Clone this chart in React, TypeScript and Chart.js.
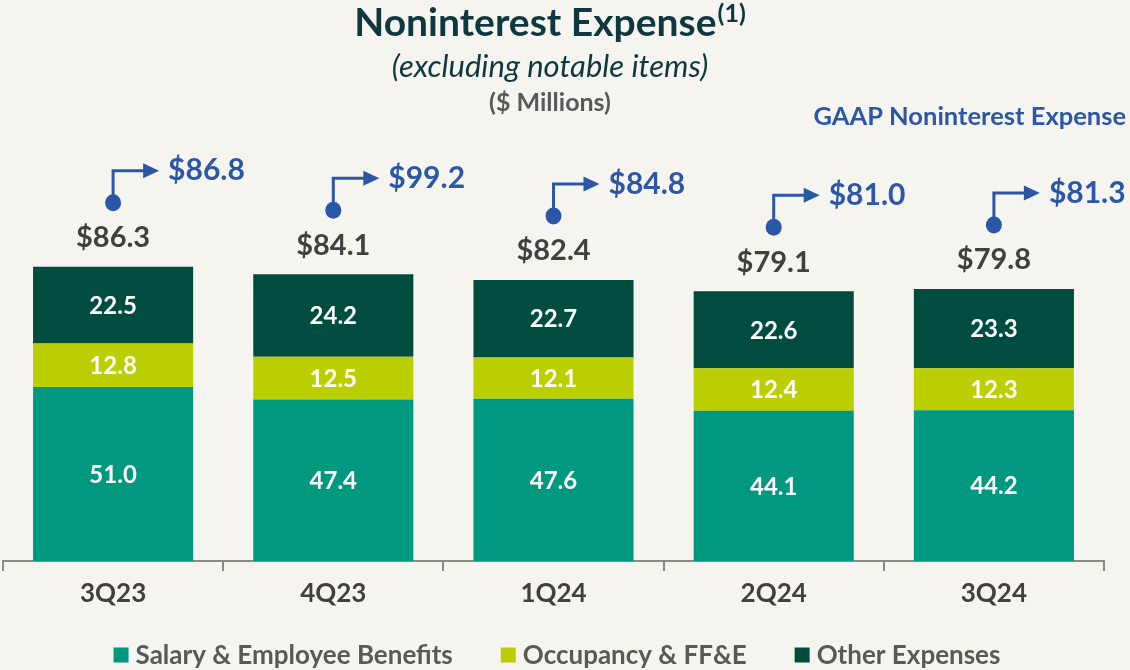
import React, { useEffect, useRef } from "react";
import { Chart, registerables } from "chart.js";

Chart.register(...registerables);

const categories = ["3Q23", "4Q23", "1Q24", "2Q24", "3Q24"];
const salary = [51.0, 47.4, 47.6, 44.1, 44.2];
const occupancy = [12.8, 12.5, 12.1, 12.4, 12.3];
const other = [22.5, 24.2, 22.7, 22.6, 23.3];
const totals = [86.3, 84.1, 82.4, 79.1, 79.8];
const gaap = [86.8, 99.2, 84.8, 81.0, 81.3];
const seriesNames = ["Salary & Employee Benefits", "Occupancy & FF&E", "Other Expenses"];

const TEAL = "#00987F";
const LIME = "#BBCF00";
const DARK = "#004D40";
const BLUE = "#2C57A7";
const GREY = "#404040";
const BG = "#F5F4EE";
const FONT = "Lato, 'Open Sans', sans-serif";

const decorPlugin = {
  id: "decor",
  beforeDraw(chart: any) {
    const { ctx, width, height } = chart;
    ctx.save();
    ctx.fillStyle = BG;
    ctx.fillRect(0, 0, width, height);
    ctx.restore();
  },
  afterDatasetsDraw(chart: any) {
    const { ctx } = chart;
    const cx = 550;
    ctx.save();
    // Title
    ctx.textBaseline = "alphabetic";
    ctx.fillStyle = "#0F3740";
    ctx.font = `bold 39px ${FONT}`;
    const t = "Noninterest Expense";
    const tw = ctx.measureText(t).width;
    ctx.font = `bold 25px ${FONT}`;
    const sw = ctx.measureText("(1)").width;
    const startX = cx - (tw + sw + 1) / 2;
    ctx.textAlign = "left";
    ctx.font = `bold 39px ${FONT}`;
    ctx.fillText(t, startX, 36);
    ctx.font = `bold 25px ${FONT}`;
    ctx.fillText("(1)", startX + tw + 1, 22);
    // Subtitle
    ctx.textAlign = "center";
    ctx.font = `italic 31px ${FONT}`;
    ctx.fillText("(excluding notable items)", cx, 77);
    ctx.fillStyle = "#595959";
    ctx.font = `bold 25px ${FONT}`;
    ctx.fillText("($ Millions)", cx, 111);
    // GAAP header
    ctx.fillStyle = BLUE;
    ctx.textAlign = "right";
    ctx.font = `bold 25.5px ${FONT}`;
    ctx.fillText("GAAP Noninterest Expense", 1126, 125);

    // Segment labels
    ctx.textAlign = "center";
    ctx.textBaseline = "middle";
    ctx.fillStyle = "#FFFFFF";
    ctx.font = `bold 24px ${FONT}`;
    chart.data.datasets.forEach((ds: any, di: number) => {
      const meta = chart.getDatasetMeta(di);
      meta.data.forEach((bar: any, i: number) => {
        const yMid = (bar.y + bar.base) / 2;
        ctx.fillText(ds.data[i].toFixed(1), bar.x, yMid + 1);
      });
    });

    // Totals and GAAP arrows
    const topMeta = chart.getDatasetMeta(2);
    const yScale = chart.scales.y;
    topMeta.data.forEach((bar: any, i: number) => {
      const x = bar.x;
      const top = yScale.getPixelForValue(totals[i]);
      ctx.fillStyle = GREY;
      ctx.font = `bold 29px ${FONT}`;
      ctx.textAlign = "center";
      ctx.fillText("$" + totals[i].toFixed(1), x, top - 29);

      const dotY = top - 64;
      const lineY = dotY - 32;
      ctx.strokeStyle = BLUE;
      ctx.fillStyle = BLUE;
      ctx.lineWidth = 3;
      ctx.beginPath();
      ctx.moveTo(x, dotY);
      ctx.lineTo(x, lineY);
      ctx.lineTo(x + 31, lineY);
      ctx.stroke();
      ctx.beginPath();
      ctx.moveTo(x + 30, lineY - 7.5);
      ctx.lineTo(x + 46, lineY);
      ctx.lineTo(x + 30, lineY + 7.5);
      ctx.closePath();
      ctx.fill();
      ctx.beginPath();
      ctx.ellipse(x, dotY, 8, 8.5, 0, 0, Math.PI * 2);
      ctx.fill();

      ctx.textAlign = "left";
      ctx.font = `bold 30px ${FONT}`;
      ctx.fillText("$" + gaap[i].toFixed(1), x + 55, lineY);
    });

    // Legend
    const colors = [TEAL, LIME, DARK];
    ctx.font = `bold 26px ${FONT}`;
    const box = 15, gapBox = 7, gapItem = 48;
    const widths = seriesNames.map((n) => ctx.measureText(n).width);
    const total = widths.reduce((a, b) => a + b + box + gapBox, 0) + gapItem * (seriesNames.length - 1);
    let lx = 557 - total / 2;
    const ly = 655;
    ctx.textAlign = "left";
    ctx.textBaseline = "middle";
    seriesNames.forEach((n, i) => {
      ctx.fillStyle = colors[i];
      ctx.fillRect(lx, ly - box / 2, box, box);
      ctx.fillStyle = "#595959";
      ctx.fillText(n, lx + box + gapBox, ly + 1);
      lx += box + gapBox + widths[i] + gapItem;
    });
    ctx.restore();
  },
};

export default function App() {
  const ref = useRef<HTMLCanvasElement | null>(null);
  useEffect(() => {
    document.body.style.margin = "0";
    document.body.style.background = BG;
    let chart: Chart | null = null;
    let cancelled = false;
    const make = () => {
      if (cancelled || !ref.current) return;
      chart = new Chart(ref.current, {
        type: "bar",
        data: {
          labels: categories,
          datasets: [
            { label: seriesNames[0], data: salary, backgroundColor: TEAL },
            { label: seriesNames[1], data: occupancy, backgroundColor: LIME },
            { label: seriesNames[2], data: other, backgroundColor: DARK },
          ],
        },
        options: {
          animation: false,
          responsive: false,
          maintainAspectRatio: false,
          layout: { padding: { left: 3, right: 26, top: 100, bottom: 0 } },
          plugins: { legend: { display: false }, tooltip: { enabled: false }, title: { display: false } },
          datasets: { bar: { barPercentage: 0.727, categoryPercentage: 1 } },
          scales: {
            x: {
              stacked: true,
              offset: true,
              afterFit: (scale: any) => {
                scale.height = 109;
              },
              grid: {
                display: true,
                drawOnChartArea: false,
                offset: true,
                tickLength: 10,
                color: "#8A8A8A",
                lineWidth: 2,
              },
              border: { display: true, color: "#8A8A8A", width: 2 },
              ticks: {
                color: GREY,
                font: { family: FONT, weight: "bold", size: 26 },
                padding: 7,
              },
            },
            y: {
              stacked: true,
              display: false,
              min: 0,
              max: 135.2,
            },
          },
        },
        plugins: [decorPlugin],
      } as any);
    };
    const fontsReady = (document as any).fonts
      ? Promise.all([
          (document as any).fonts.load(`bold 24px Lato`),
          (document as any).fonts.load(`italic 24px Lato`),
        ]).catch(() => null)
      : Promise.resolve();
    fontsReady.then(make);
    return () => {
      cancelled = true;
      if (chart) chart.destroy();
    };
  }, []);
  return (
    <div style={{ width: 1130, height: 670 }}>
      <canvas ref={ref} width={1130} height={670} style={{ display: "block" }} />
    </div>
  );
}
